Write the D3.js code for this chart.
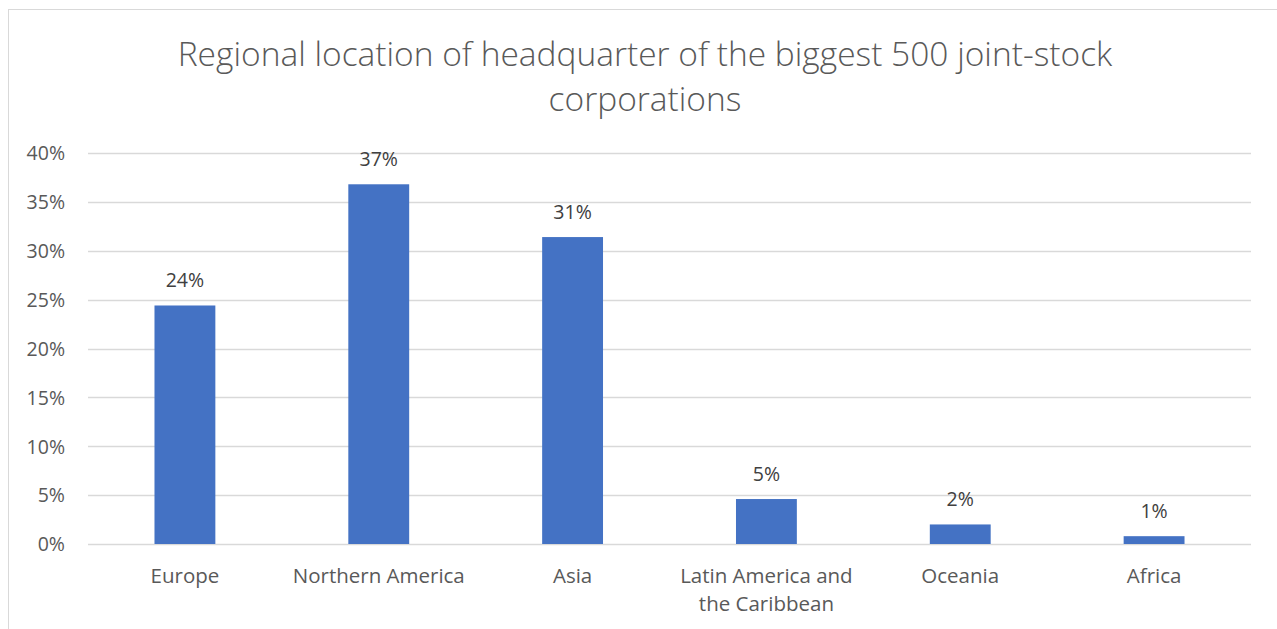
<!DOCTYPE html>
<html>
<head>
<meta charset="utf-8">
<script src="https://cdn.jsdelivr.net/npm/d3@7"></script>
<style>
  html, body { margin: 0; padding: 0; background: #fff; }
  svg { display: block; }
</style>
</head>
<body>
<svg id="chart" width="1277" height="629"></svg>
<script>
// Share of the 500 largest joint-stock corporations by headquarters region
const regions = ["Europe", "Northern America", "Asia", "Latin America and the Caribbean", "Oceania", "Africa"];
const regionLines = [["Europe"], ["Northern America"], ["Asia"], ["Latin America and", "the Caribbean"], ["Oceania"], ["Africa"]];
const shares = [0.244, 0.368, 0.314, 0.046, 0.020, 0.008];
const yTicks = [0, 0.05, 0.10, 0.15, 0.20, 0.25, 0.30, 0.35, 0.40];
const titleLines = ["Regional location of headquarter of the biggest 500 joint-stock", "corporations"];

const svg = d3.select("#chart");
const font = "'Open Sans', 'Noto Sans', sans-serif";
const textColor = "#595959";

// outer chart frame
svg.append("rect")
  .attr("x", 8.5).attr("y", 9.5)
  .attr("width", 1300).attr("height", 700)
  .attr("fill", "#fff")
  .attr("stroke", "#d9d9d9").attr("stroke-width", 1);

const plot = { left: 88, right: 1251, top: 153, bottom: 544 };

const x = d3.scaleBand()
  .domain(regions)
  .range([plot.left, plot.right])
  .paddingInner(0.686)
  .paddingOuter(0.343);

const y = d3.scaleLinear()
  .domain([0, 0.40])
  .range([plot.bottom, plot.top]);

// title
svg.append("g").selectAll("text")
  .data(titleLines)
  .join("text")
  .attr("x", 645)
  .attr("y", (d, i) => 66 + i * 45)
  .attr("text-anchor", "middle")
  .attr("font-family", font)
  .attr("font-weight", 300)
  .attr("font-size", 33.5)
  .attr("fill", textColor)
  .text(d => d);

// horizontal gridlines
svg.append("g").selectAll("line")
  .data(yTicks)
  .join("line")
  .attr("x1", plot.left).attr("x2", plot.right)
  .attr("y1", d => Math.round(y(d)) + 0.5)
  .attr("y2", d => Math.round(y(d)) + 0.5)
  .attr("stroke", "#d9d9d9")
  .attr("stroke-width", 1.5);

// y axis labels
const yAxis = d3.axisLeft(y)
  .tickValues(yTicks)
  .tickFormat(d3.format(".0%"))
  .tickSize(0)
  .tickPadding(0);

const yg = svg.append("g")
  .attr("transform", `translate(${plot.left - 23},0)`)
  .call(yAxis);
yg.select(".domain").remove();
yg.selectAll("text")
  .attr("font-family", font)
  .attr("font-size", 19.5)
  .attr("fill", textColor)
  .attr("dy", "0.35em");

// bars
svg.append("g").selectAll("rect")
  .data(regions)
  .join("rect")
  .attr("x", d => x(d))
  .attr("width", x.bandwidth())
  .attr("y", (d, i) => y(shares[i]))
  .attr("height", (d, i) => y(0) - y(shares[i]))
  .attr("fill", "#4472C4");

// value labels
svg.append("g").selectAll("text")
  .data(regions)
  .join("text")
  .attr("x", d => x(d) + x.bandwidth() / 2)
  .attr("y", (d, i) => y(shares[i]) - 18)
  .attr("text-anchor", "middle")
  .attr("font-family", font)
  .attr("font-size", 19.5)
  .attr("fill", "#404040")
  .text((d, i) => d3.format(".0%")(shares[i]));

// category labels
const cats = svg.append("g").selectAll("text")
  .data(regions)
  .join("text")
  .attr("x", d => x(d) + x.bandwidth() / 2)
  .attr("y", 583)
  .attr("text-anchor", "middle")
  .attr("font-family", font)
  .attr("font-size", 20.5)
  .attr("fill", textColor);
cats.selectAll("tspan")
  .data((d, i) => regionLines[i])
  .join("tspan")
  .attr("x", function () { return this.parentNode.getAttribute("x"); })
  .attr("dy", (d, i) => i === 0 ? 0 : 28)
  .text(d => d);
</script>
</body>
</html>
